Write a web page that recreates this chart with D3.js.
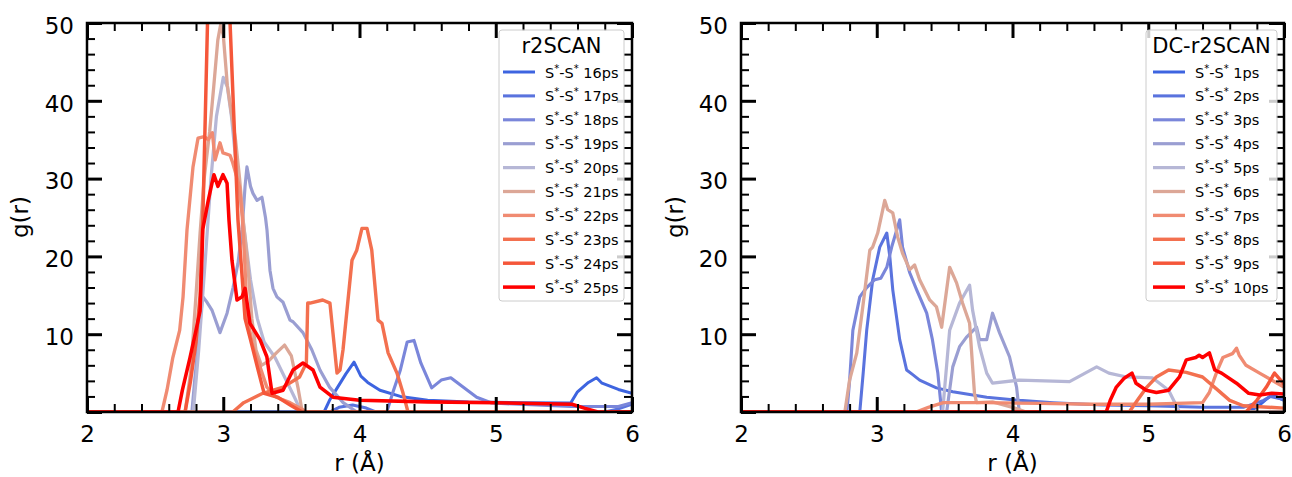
<!DOCTYPE html>
<html>
<head>
<meta charset="utf-8">
<script src="https://cdn.jsdelivr.net/npm/d3@7"></script>
<style>
body{margin:0;background:#fff;}
svg{display:block;font-family:"DejaVu Sans",sans-serif;}
</style>
</head>
<body>
<div id="chart"></div>
<script>
// ---- data (r in Angstrom, g(r)) ----
var rTicks = [2, 3, 4, 5, 6];
var gTicks = [0, 10, 20, 30, 40, 50];

var r2scanTimes = ['16ps','17ps','18ps','19ps','20ps','21ps','22ps','23ps','24ps','25ps'];
var dcTimes = ['1ps','2ps','3ps','4ps','5ps','6ps','7ps','8ps','9ps','10ps'];

var r2scan16 = [[2,0],[3.74,0],[3.78,1.5],[3.84,3.2],[3.9,4.9],[3.96,6.4],[4.01,4.6],[4.06,3.8],[4.15,2.8],[4.3,2.0],[4.5,1.5],[4.8,1.3],[5.2,1.2],[5.55,1.15],[5.6,2.6],[5.68,3.8],[5.74,4.4],[5.78,3.7],[5.9,2.9],[6,2.4]];
var r2scan17 = [[2,0],[3.78,0],[3.85,0.6],[3.95,0.9],[4.05,0.5],[4.12,0],[5.8,0],[5.9,0.4],[6,1.0]];
var r2scan18 = [[2,0],[4.2,0],[4.25,2.8],[4.3,5.4],[4.35,9],[4.4,9.2],[4.45,6.3],[4.53,3.1],[4.6,4.1],[4.67,4.4],[4.76,3.2],[4.86,1.9],[4.97,1.15],[5.3,0.9],[5.55,0.7],[5.9,0.7],[6,1.2]];
var r2scan19 = [[2,0],[2.77,0],[2.79,4],[2.807,7],[2.83,12],[2.851,14.8],[2.881,14.1],[2.917,13.1],[2.976,10.2],[3.028,12.7],[3.072,16],[3.108,19.1],[3.138,23.4],[3.16,29],[3.174,31.5],[3.2,29],[3.218,28.1],[3.248,27.2],[3.284,27.6],[3.31,25],[3.321,23.4],[3.343,18.2],[3.365,15.9],[3.394,14.8],[3.439,14.1],[3.49,11.8],[3.512,11.6],[3.585,10.2],[3.65,8],[3.71,5.4],[3.78,3.2],[3.88,1.2],[3.98,0],[6,0]];
var r2scan20 = [[2,0],[2.78,0],[2.82,8],[2.87,20],[2.91,30],[2.95,38],[3.0,43],[3.03,41.8],[3.06,38],[3.1,31],[3.15,24],[3.2,17],[3.25,12],[3.3,9],[3.38,7],[3.45,4.5],[3.52,2],[3.56,0.5],[3.6,0],[6,0]];
var r2scan21 = [[2,0],[2.72,0],[2.76,5],[2.8,15],[2.83,23],[2.86,30],[2.9,36],[2.93,41.8],[2.96,47.8],[2.98,49.7],[3.0,48.5],[3.03,42],[3.06,38.4],[3.09,35],[3.12,30],[3.15,24],[3.18,19],[3.21,12],[3.24,8],[3.28,6],[3.33,6.5],[3.39,7.6],[3.45,8.6],[3.5,7.2],[3.55,3],[3.58,0],[6,0]];
var r2scan22 = [[2,0],[2.55,0],[2.587,2.8],[2.63,7],[2.68,10.5],[2.705,14.8],[2.734,23.4],[2.778,31.5],[2.815,35.2],[2.86,35.4],[2.89,35],[2.92,35.9],[2.94,32.4],[2.976,34.6],[2.998,33.3],[3.05,33],[3.07,32],[3.12,28.9],[3.14,25],[3.16,18.6],[3.174,12.2],[3.218,8.4],[3.27,5.8],[3.32,3.2],[3.39,1.9],[3.49,1.2],[3.585,0.3],[3.6,0],[6,0]];
var r2scan23 = [[2,0],[3.07,0],[3.15,1.2],[3.29,2.4],[3.44,3.2],[3.56,4.5],[3.61,6.3],[3.62,14],[3.637,14],[3.73,14.4],[3.783,14],[3.805,10.2],[3.835,5],[3.857,5.4],[3.879,8],[3.945,19.5],[3.98,20.8],[4.018,23.6],[4.055,23.6],[4.09,20.8],[4.136,11.8],[4.165,11.4],[4.21,7.6],[4.275,5],[4.32,2.4],[4.356,0],[6,0]];
var r2scan24 = [[2,0],[2.72,0],[2.76,4],[2.8,9],[2.83,15],[2.85,24.7],[2.885,50.4],[2.9,60],[3.0,62],[3.04,55],[3.05,50],[3.108,24.7],[3.14,17],[3.16,12],[3.2,9.3],[3.25,5.8],[3.3,2.4],[3.4,1.9],[3.5,0.8],[3.58,0],[6,0]];
var r2scan25 = [[2,0],[2.668,0],[2.7,2.8],[2.756,7],[2.8,10.5],[2.83,13],[2.84,18],[2.85,23.5],[2.888,27],[2.917,29.4],[2.932,30.5],[2.961,29],[2.998,30.5],[3.028,29.4],[3.042,24.7],[3.064,19.5],[3.101,14.4],[3.138,14.8],[3.16,15.9],[3.196,11.4],[3.27,9.3],[3.32,7.1],[3.358,2.4],[3.439,2.8],[3.512,5.4],[3.585,6.3],[3.659,5.4],[3.71,3.2],[3.805,1.9],[4.0,1.5],[4.5,1.3],[5.0,1.2],[5.56,1.0],[5.65,0.5],[5.75,0],[6,0]];

var dc1 = [[2,0],[5.72,0],[5.8,0.6],[5.86,1.5],[5.92,2.3],[5.96,1.8],[6,1.5]];
var dc2 = [[2,0],[2.875,0],[2.9,5],[2.926,10.5],[2.97,17],[3.022,21.2],[3.074,23],[3.096,20],[3.118,15.7],[3.169,9.3],[3.22,5.4],[3.265,4.8],[3.316,4.1],[3.44,3.1],[3.56,2.6],[3.81,1.9],[4.05,1.5],[4.3,1.2],[4.66,0.9],[5.0,0.8],[5.4,0.6],[5.7,0.6],[5.85,1.5],[5.9,2],[6,1.6]];
var dc3 = [[2,0],[2.78,0],[2.8,4],[2.824,10.5],[2.875,14.8],[2.926,16],[2.985,17],[3.03,17.2],[3.074,18.6],[3.11,21.2],[3.154,23.8],[3.169,24.7],[3.19,21.2],[3.243,17.9],[3.294,15.7],[3.368,12.7],[3.41,9.3],[3.45,5],[3.478,0],[6,0]];
var dc4 = [[2,0],[3.515,0],[3.56,5.8],[3.61,8.4],[3.66,9.6],[3.735,10.9],[3.757,9.3],[3.81,9.3],[3.853,12.7],[3.904,10.2],[3.978,7.1],[4.03,3.2],[4.05,0],[6,0]];
var dc5 = [[2,0],[3.485,0],[3.537,10.5],[3.61,14],[3.684,16.3],[3.706,13.1],[3.757,8.4],[3.81,5],[3.853,3.7],[4.05,4.1],[4.42,3.9],[4.515,4.8],[4.62,5.8],[4.71,5],[4.84,4.5],[5.03,4.4],[5.15,2.8],[5.23,0],[6,0]];
var dc6 = [[2,0],[2.765,0],[2.8,4.1],[2.853,7.6],[2.897,13.5],[2.949,20.8],[2.97,21.2],[3.007,23],[3.059,27.2],[3.081,26],[3.118,25.6],[3.154,22.5],[3.19,20.4],[3.243,18.3],[3.279,18.9],[3.316,17],[3.39,14.4],[3.44,13.5],[3.478,10.9],[3.537,18.6],[3.588,16.6],[3.632,14],[3.684,11.4],[3.72,2.4],[3.735,1.2],[3.853,1.3],[4.0,0.6],[4.1,0],[6,0]];
var dc7 = [[2,0],[3.29,0],[3.38,0.6],[3.49,1.2],[3.8,1.2],[4.2,1.1],[4.6,1.0],[5.0,1.0],[5.4,1.2],[5.45,2.5],[5.51,5.4],[5.55,7],[5.62,7.5],[5.65,8.2],[5.67,7.3],[5.72,6],[5.82,5],[5.95,3.7],[6,3.2]];
var dc8 = [[2,0],[4.86,0],[4.92,1.5],[4.99,3.2],[5.06,4.5],[5.15,5.4],[5.28,5.1],[5.4,4.5],[5.5,3],[5.6,1.5],[5.7,0.8],[6,0.5]];
var dc9 = [[2,0],[5.72,0],[5.8,1.5],[5.87,3.2],[5.93,5],[5.97,4.2],[6,3.6]];
var dc10 = [[2,0],[4.69,0],[4.72,1.5],[4.765,3.2],[4.82,4.3],[4.88,5],[4.91,3.7],[4.985,2.8],[5.06,2.5],[5.15,2.8],[5.23,4.5],[5.28,6.7],[5.35,7],[5.375,7.3],[5.40,7],[5.45,7.6],[5.49,5.4],[5.54,5],[5.65,3.7],[5.74,2.4],[5.82,2.2],[5.91,2.4],[6,2.3]];

var r2scanSeries = [r2scan16, r2scan17, r2scan18, r2scan19, r2scan20, r2scan21, r2scan22, r2scan23, r2scan24, r2scan25];
var dcSeries = [dc1, dc2, dc3, dc4, dc5, dc6, dc7, dc8, dc9, dc10];

// ---- styling ----
var colors = ['#3d64e0','#5a73de','#7a86da','#9a9ed2','#b6b7d6','#dca797','#f08b72','#f3704f','#f5573a','#ff0000'];
function lineW(i){ return 3 + 0.06 * i; }

var width = 1292, height = 477,
	yTop = 23, yBot = 412;

var panels = [
	{left: 87, right: 632, title: 'r2SCAN', times: r2scanTimes, series: r2scanSeries,
		ylabX: 28, leg: {x: 499, w: 125, lineX: 503, textX: 545}},
	{left: 741, right: 1284, title: 'DC-r2SCAN', times: dcTimes, series: dcSeries,
		ylabX: 683, leg: {x: 1146, w: 131, lineX: 1153, textX: 1195}}
];

var svg = d3.select('#chart')
	.append('svg')
		.attr('width', width)
		.attr('height', height);

var rMinor = d3.range(2, 6.001, 0.2).filter(function(v){ return Math.abs(v - Math.round(v)) > 0.01; });
var gMinor = d3.range(0, 51, 2).filter(function(v){ return v % 10 !== 0; });

panels.forEach(function(p, pi){
	var x = d3.scaleLinear().domain([2, 6]).range([p.left, p.right]);
	var y = d3.scaleLinear().domain([0, 50]).range([yBot, yTop]);

	svg.append('clipPath').attr('id', 'clip' + pi)
		.append('rect')
			.attr('x', p.left).attr('y', yTop)
			.attr('width', p.right - p.left).attr('height', yBot - yTop);

	var line = d3.line()
		.x(function(d){ return x(d[0]); })
		.y(function(d){ return y(d[1]); });

	svg.append('g')
		.attr('clip-path', 'url(#clip' + pi + ')')
		.selectAll('path')
		.data(p.series)
		.join('path')
			.attr('d', line)
			.attr('fill', 'none')
			.attr('stroke', function(d, i){ return colors[i]; })
			.attr('stroke-width', function(d, i){ return lineW(i); })
			.attr('stroke-linejoin', 'round');

	// axes: ticks point inward on all four sides
	function addAxis(axis, transform, len, w, labels){
		var g = svg.append('g')
			.attr('transform', transform)
			.call(axis.tickSize(-len).tickSizeOuter(0));
		g.select('.domain').remove();
		g.selectAll('.tick line').attr('stroke', '#000').attr('stroke-width', w);
		g.attr('font-size', 23).attr('font-family', '"DejaVu Sans", sans-serif');
		g.selectAll('.tick text').attr('fill', '#000');
		if (!labels) g.selectAll('.tick text').remove();
		return g;
	}

	addAxis(d3.axisBottom(x).tickValues(rTicks).tickPadding(14).tickFormat(d3.format('d')),
		'translate(0,' + yBot + ')', 15, 3, true);
	addAxis(d3.axisBottom(x).tickValues(rMinor), 'translate(0,' + yBot + ')', 8, 2, false);
	addAxis(d3.axisTop(x).tickValues(rTicks), 'translate(0,' + yTop + ')', 15, 3, false);
	addAxis(d3.axisTop(x).tickValues(rMinor), 'translate(0,' + yTop + ')', 8, 2, false);

	var ly = addAxis(d3.axisLeft(y).tickValues(gTicks).tickPadding(13)
			.tickFormat(function(d){ return d === 0 ? '' : d; }),
		'translate(' + p.left + ',0)', 15, 3, true);
	ly.selectAll('.tick text').attr('dy', '0.45em');
	addAxis(d3.axisLeft(y).tickValues(gMinor), 'translate(' + p.left + ',0)', 8, 2, false);
	addAxis(d3.axisRight(y).tickValues(gTicks), 'translate(' + p.right + ',0)', 15, 3, false);
	addAxis(d3.axisRight(y).tickValues(gMinor), 'translate(' + p.right + ',0)', 8, 2, false);

	svg.append('rect')
		.attr('x', p.left).attr('y', yTop)
		.attr('width', p.right - p.left).attr('height', yBot - yTop)
		.attr('fill', 'none').attr('stroke', '#000').attr('stroke-width', 2.5);

	// axis labels
	svg.append('text')
		.attr('x', (p.left + p.right) / 2).attr('y', 471)
		.attr('text-anchor', 'middle').attr('font-size', 23)
		.text('r (Å)');
	svg.append('text')
		.attr('transform', 'translate(' + p.ylabX + ',217) rotate(-90)')
		.attr('text-anchor', 'middle').attr('font-size', 23)
		.text('g(r)');

	// legend
	var leg = svg.append('g');
	leg.append('rect')
		.attr('x', p.leg.x).attr('y', 30)
		.attr('width', p.leg.w).attr('height', 271)
		.attr('rx', 3)
		.attr('fill', '#fff').attr('fill-opacity', 0.8)
		.attr('stroke', '#cccccc').attr('stroke-width', 1);
	leg.append('text')
		.attr('x', p.leg.x + p.leg.w / 2).attr('y', 52.5)
		.attr('text-anchor', 'middle').attr('font-size', 21)
		.text(p.title);

	p.times.forEach(function(t, i){
		var cy = 72 + i * 23.9;
		leg.append('line')
			.attr('x1', p.leg.lineX).attr('x2', p.leg.lineX + 32)
			.attr('y1', cy).attr('y2', cy)
			.attr('stroke', colors[i]).attr('stroke-width', lineW(i));
		var txt = leg.append('text')
			.attr('x', p.leg.textX).attr('y', cy + 5.5)
			.attr('font-size', 14.5)
			.style('white-space', 'pre');
		txt.append('tspan').text('S');
		txt.append('tspan').attr('dy', -6).attr('font-size', 10).text('*');
		txt.append('tspan').attr('dy', 6).text('-S');
		txt.append('tspan').attr('dy', -6).attr('font-size', 10).text('*');
		txt.append('tspan').attr('dy', 6).text(' ' + t);
	});
});
</script>
</body>
</html>
